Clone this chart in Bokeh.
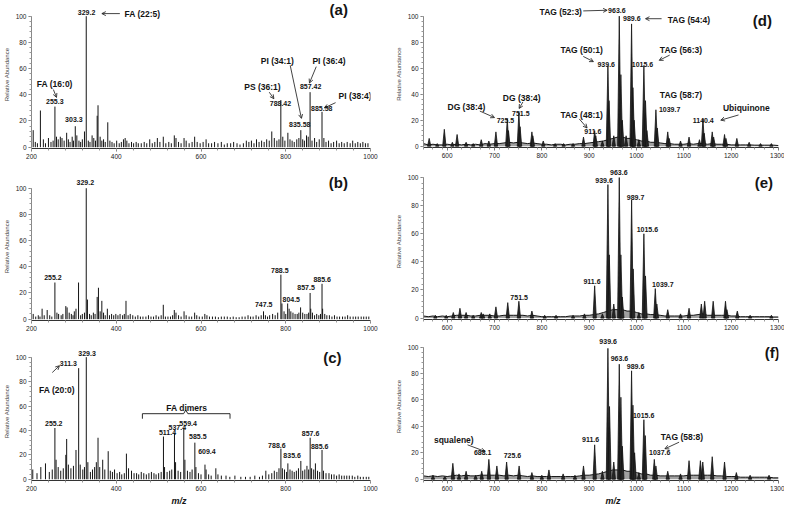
from bokeh.plotting import figure
from bokeh.layouts import row, column
from bokeh.models import Range1d, FixedTicker, Label, Arrow, OpenHead, Title
from bokeh.embed import file_html
from bokeh.resources import INLINE

# ---------------- data (m/z, relative abundance) ----------------
a_peaks = [(204, 13), (209, 4), (214, 3), (221, 28), (228, 6), (233, 3), (240, 7), (246, 4), (251, 5),
           (255.3, 31), (259, 8), (263, 6), (268, 8), (272, 7), (277, 5), (283, 11), (287, 6), (291, 4),
           (296, 8), (299, 5), (303.3, 16), (307, 9), (312, 5), (316, 4), (320, 6), (325, 12), (329.2, 100),
           (334, 5), (338, 4), (343, 9), (347, 7), (351, 5), (355, 24), (357, 32), (362, 8), (366, 5),
           (370, 6), (374, 4), (380, 19), (385, 5), (390, 4), (395, 3), (401, 5), (407, 3), (412, 4),
           (417, 6), (421, 7), (425, 5), (430, 3), (436, 4), (441, 3), (447, 4), (452, 3), (459, 3),
           (466, 4), (472, 3), (479, 6), (485, 3), (491, 4), (497, 7), (503, 4), (511, 8), (517, 3),
           (524, 4), (530, 3), (537, 9), (541, 7), (547, 4), (553, 3), (560, 7), (565, 5), (572, 3),
           (579, 4), (585, 8), (591, 4), (598, 3), (605, 4), (612, 6), (618, 3), (625, 3), (632, 4),
           (640, 3), (648, 4), (655, 2), (662, 3), (670, 3), (677, 4), (685, 3), (692, 2), (700, 3),
           (707, 5), (713, 4), (719, 5), (725, 3), (731, 6), (737, 4), (743, 5), (749, 4), (755, 6),
           (761, 5), (767, 12), (773, 7), (779, 5), (784, 6), (788.42, 36), (793, 8), (798, 5), (805, 11),
           (810, 6), (815, 5), (820, 4), (826, 6), (831, 7), (835.58, 13), (840, 6), (844, 5), (849, 9),
           (853, 8), (857.42, 42), (862, 5), (868, 7), (873, 4), (879, 6), (885.58, 27), (890, 7),
           (895, 4), (901, 5), (907, 3), (913, 4), (920, 5), (926, 3), (932, 4), (938, 3), (945, 4),
           (952, 3), (958, 5), (964, 3), (970, 4), (976, 3), (982, 4), (988, 3), (994, 3)]

b_peaks = [(204, 4), (210, 2), (216, 3), (220, 2), (225, 8), (230, 3), (237, 7), (243, 3), (248, 2),
           (255.2, 28), (260, 5), (264, 4), (270, 3), (274, 4), (281, 10), (284, 9), (289, 5), (294, 4),
           (298, 3), (301, 6), (305, 8), (311, 28), (316, 3), (320, 4), (325, 5), (329.2, 100), (332, 15),
           (337, 4), (341, 3), (346, 5), (350, 4), (355, 17), (358, 24), (362, 6), (366, 14), (370, 5),
           (374, 3), (379, 8), (384, 3), (389, 4), (394, 3), (399, 4), (404, 3), (409, 4), (415, 3),
           (419, 4), (423, 14), (428, 3), (433, 4), (439, 3), (445, 2), (451, 3), (457, 2), (463, 2),
           (470, 2), (476, 3), (482, 2), (488, 2), (494, 3), (500, 2), (506, 3), (511, 11), (516, 2),
           (522, 2), (528, 2), (533, 3), (537, 7), (541, 5), (547, 3), (553, 2), (560, 6), (565, 3),
           (572, 2), (578, 2), (585, 5), (590, 3), (596, 2), (603, 2), (609, 4), (614, 3), (620, 2),
           (627, 2), (634, 2), (641, 1.5), (648, 2), (655, 2), (662, 2), (669, 1.5), (676, 2), (683, 1.5),
           (690, 1.5), (697, 2), (704, 2), (711, 3), (717, 2), (723, 2), (730, 3), (736, 2), (742, 3),
           (747.5, 6), (752, 3), (757, 2), (762, 3), (769, 4), (775, 3), (781, 5), (788.5, 34), (791, 12),
           (796, 6), (800, 4), (804.5, 12), (808, 8), (812, 6), (817, 5), (822, 4), (827, 4), (831, 5),
           (835, 9), (840, 5), (845, 4), (850, 4), (854, 5), (857.5, 20), (859, 8), (863, 5), (868, 3),
           (873, 4), (878, 3), (882, 4), (885.6, 27), (887, 8), (892, 4), (897, 3), (903, 3), (909, 2),
           (915, 3), (921, 2), (927, 2), (934, 2), (940, 2), (946, 3), (952, 2), (959, 2), (965, 2),
           (971, 2), (978, 2), (984, 2), (990, 2), (996, 2)]

c_peaks = [(203, 8), (213, 5), (222, 10), (233, 13), (242, 6), (249, 8), (255.2, 42), (258, 16), (263, 10),
           (269, 7), (275, 9), (281, 20), (283, 33), (287, 12), (293, 9), (299, 11), (305, 24), (311.3, 91),
           (315, 12), (321, 8), (325, 10), (329.3, 100), (333, 14), (339, 6), (344, 8), (349, 10), (353, 14),
           (357, 34), (361, 10), (368, 16), (373, 8), (381, 23), (386, 7), (391, 6), (396, 8), (402, 5),
           (408, 6), (413, 4), (419, 5), (424, 21), (429, 9), (436, 7), (442, 5), (448, 5), (453, 4),
           (459, 6), (465, 5), (471, 4), (477, 5), (483, 6), (489, 5), (494, 4), (500, 5), (506, 6),
           (511.4, 35), (514, 10), (520, 6), (526, 7), (531, 8), (537.4, 38), (540, 14), (546, 7), (552, 6),
           (559.4, 42), (562, 16), (568, 7), (574, 6), (579, 8), (585.5, 30), (588, 10), (594, 5), (600, 4),
           (609.4, 12), (612, 8), (618, 4), (624, 3), (635, 9), (640, 4), (648, 3), (659, 3), (668, 2),
           (680, 3), (694, 2), (705, 2), (716, 2), (727, 3), (738, 2), (745, 3), (753, 7), (760, 4),
           (767, 5), (773, 7), (779, 6), (784, 9), (788.6, 25), (792, 9), (797, 8), (802, 6), (805, 13),
           (810, 8), (815, 7), (820, 6), (825, 7), (830, 9), (835.6, 15), (840, 7), (845, 8), (850, 11),
           (854, 8), (857.6, 34), (861, 9), (866, 8), (870, 13), (875, 7), (880, 6), (885.6, 24), (889, 7),
           (895, 5), (902, 5), (908, 4), (914, 4), (920, 3), (926, 4), (932, 3), (938, 3), (944, 3),
           (950, 3), (957, 3), (963, 2), (970, 3), (976, 2), (983, 2), (990, 2), (996, 2)]

d_peaks = [(562, 6), (579, 2), (594, 13), (611, 3), (621, 9), (640, 3), (655, 2), (672, 5), (688, 4),
           (703, 11), (727, 21), (729.5, 12), (751.5, 26), (754, 15), (779, 11), (781, 8), (803, 4),
           (828, 2), (846, 2), (866, 2), (888, 7), (911.6, 12), (914, 8), (928, 4), (939.6, 62), (942, 35),
           (952, 8), (963.6, 100), (967, 55), (970, 20), (978, 8), (989.6, 94), (992.5, 45), (995, 20),
           (1005, 5), (1015.6, 62), (1019, 35), (1022, 12), (1041, 28), (1044, 14), (1066, 11), (1069, 6),
           (1093, 4), (1111, 7), (1133, 5), (1140.4, 21), (1143, 10), (1160, 11), (1163, 7), (1186, 9),
           (1189, 6), (1212, 6), (1238, 3), (1262, 2), (1285, 2)]
d_base = [(550, 2), (560, 1), (570, 1.5), (580, 1), (590, 1), (600, 1.5), (610, 1), (620, 1.5), (630, 1),
          (640, 1.5), (650, 1), (660, 1.5), (670, 1), (680, 2), (690, 1.5), (700, 2), (710, 2), (720, 2.5),
          (730, 3), (740, 2.5), (750, 3), (760, 2.5), (770, 2), (780, 2.5), (790, 2), (800, 1.5), (810, 1.5),
          (820, 1), (830, 1.5), (840, 1.5), (850, 1), (860, 1.5), (870, 1.5), (880, 2), (890, 2), (900, 2.5),
          (910, 3), (920, 3.5), (930, 4), (940, 5), (950, 6), (960, 7), (970, 7), (980, 6), (990, 6),
          (1000, 5), (1010, 4), (1020, 4), (1030, 3), (1040, 3), (1050, 2.5), (1060, 2), (1070, 2),
          (1080, 1.5), (1090, 1.5), (1100, 1.5), (1110, 2), (1120, 1.5), (1130, 2), (1140, 2), (1150, 1.5),
          (1160, 2), (1170, 1.5), (1180, 1.5), (1190, 1.5), (1200, 1), (1210, 1), (1220, 1), (1230, 1),
          (1240, 1), (1250, 0.8), (1260, 0.8), (1270, 0.8), (1280, 0.8), (1290, 0.8), (1300, 0.5)]

e_peaks = [(575, 2), (598, 2), (613, 4), (627, 7), (640, 4), (655, 2), (672, 4), (676, 3), (690, 3),
           (703, 8), (728, 11), (751.5, 12), (779, 5), (806, 2), (830, 2), (866, 2), (890, 3), (911.6, 23),
           (928, 3), (939.6, 95), (942.5, 45), (952, 10), (963.6, 100), (967, 45), (970, 15), (989.7, 84),
           (993, 35), (1005, 4), (1015.6, 60), (1019, 30), (1039.7, 21), (1043, 10), (1066, 6), (1093, 3),
           (1111, 7), (1137, 10), (1144, 12), (1162, 12), (1188, 12), (1191, 6), (1213, 5), (1240, 2),
           (1285, 2)]
e_base = [(550, 1.5), (560, 1), (570, 1.5), (580, 1), (590, 1.5), (600, 1), (610, 1.5), (620, 2), (630, 2),
          (640, 2), (650, 1.5), (660, 1.5), (670, 2), (680, 2), (690, 2), (700, 1.5), (710, 1.5), (720, 2),
          (730, 2), (740, 2), (750, 2), (760, 2), (770, 1.5), (780, 2), (790, 1.5), (800, 1), (810, 1),
          (820, 1), (830, 1), (840, 1), (850, 1), (860, 1.5), (870, 1.5), (880, 1.5), (890, 2), (900, 2),
          (910, 2.5), (920, 3), (930, 4), (940, 5), (950, 6), (960, 6), (970, 6), (980, 5), (990, 5),
          (1000, 4), (1010, 3), (1020, 3), (1030, 2.5), (1040, 2.5), (1050, 2), (1060, 1.5), (1070, 1.5),
          (1080, 1.5), (1090, 1.5), (1100, 1.5), (1110, 2), (1120, 2), (1130, 2.5), (1140, 3), (1150, 2),
          (1160, 2), (1170, 2), (1180, 2), (1190, 2), (1200, 1.5), (1210, 1.5), (1220, 1), (1230, 1),
          (1240, 1), (1250, 1), (1260, 1), (1270, 1), (1280, 1), (1290, 0.8), (1300, 0.8)]

f_peaks = [(570, 3), (595, 2), (612, 12), (625, 4), (640, 6), (660, 3), (673, 6), (688.1, 15), (705, 10),
           (725.6, 13), (752, 10), (779, 5), (800, 3), (815, 7), (845, 4), (870, 3), (888, 10), (911.6, 26),
           (928, 6), (939.6, 99), (943, 55), (952, 13), (963.6, 87), (967, 62), (970, 25), (989.6, 82),
           (992.5, 56), (996, 20), (1005, 5), (1015.6, 45), (1018.5, 33), (1037.6, 15), (1041, 10), (1066, 6),
           (1093, 4), (1111, 14), (1135, 14), (1140, 13), (1160, 17), (1186, 13), (1211, 5), (1240, 3),
           (1280, 3)]
f_base = [(550, 2.5), (560, 2), (570, 2.5), (580, 2), (590, 2.5), (600, 2), (610, 2.5), (620, 3), (630, 2.5),
          (640, 3), (650, 2.5), (660, 2.5), (670, 3), (680, 3), (690, 3), (700, 3), (710, 3), (720, 2.5),
          (730, 3), (740, 2.5), (750, 3), (760, 2.5), (770, 2), (780, 2.5), (790, 2), (800, 2), (810, 2),
          (820, 2), (830, 2), (840, 2), (850, 2), (860, 2), (870, 2), (880, 2.5), (890, 3), (900, 3),
          (910, 3.5), (920, 4), (930, 5), (940, 6), (950, 7), (960, 7), (970, 7), (980, 6), (990, 6),
          (1000, 5), (1010, 4), (1020, 4), (1030, 3), (1040, 3), (1050, 2.5), (1060, 2.5), (1070, 2.5),
          (1080, 2.5), (1090, 2.5), (1100, 2.5), (1110, 3), (1120, 3), (1130, 3), (1140, 3), (1150, 3),
          (1160, 3), (1170, 2.5), (1180, 2.5), (1190, 2), (1200, 2), (1210, 2), (1220, 1.5), (1230, 1.5),
          (1240, 1.5), (1250, 1.5), (1260, 1.5), (1270, 1.5), (1280, 1.5), (1290, 1), (1300, 1)]

# ---------------- annotations (text, m/z, abundance) ----------------
a_nums = [("329.2", 330, 103), ("255.3", 255, 35), ("303.3", 300, 21), ("788.42", 787.5, 33),
          ("835.58", 833, 17), ("857.42", 858.7, 46), ("885.58", 885, 29.6)]
a_names = [("FA (22:5)", 462, 101.5), ("FA (16:0)", 255, 48), ("PS (36:1)", 745, 46), ("PI (34:1)", 780, 66),
           ("PI (36:4)", 902, 66), ("PI (38:4)", 963.5, 39)]
a_arrows = [(408.5, 102, 366, 102), (251.6, 44, 259, 38), (761, 42, 772, 37), (810.5, 62.5, 837, 22),
            (872, 61.5, 856, 49), (917.6, 34, 891, 30)]

b_nums = [("329.2", 327, 104), ("255.2", 250.6, 32), ("788.5", 786, 37), ("747.5", 748, 11),
          ("804.5", 813, 15), ("857.5", 848, 24), ("885.6", 886, 30)]

c_nums = [("329.3", 331, 103), ("311.3", 287, 94.5), ("255.2", 252.5, 46), ("511.4", 521, 38.5),
          ("537.4", 544, 42), ("559.4", 569.6, 46), ("585.5", 592.5, 35), ("609.4", 614, 22.7),
          ("788.6", 779, 28), ("835.6", 815, 19.6), ("857.6", 858.6, 37.8), ("885.6", 880, 27)]
c_names = [("FA (20:0)", 260, 73), ("FA dimers", 566.6, 58)]
c_arrows = [(249, 87.4, 266, 93)]
c_bracket = (461.7, 668.5, 564, 49.6, 53.7, 56.7)  # left, right, middle, end y, bar y, tip y

d_nums = [("963.6", 958.5, 104), ("989.6", 990, 98), ("939.6", 936, 63), ("1015.6", 1012.6, 63),
          ("725.5", 723, 20), ("751.5", 755.6, 25), ("911.6", 907.8, 11), ("1039.7", 1070, 28),
          ("1140.4", 1141, 20)]
d_names = [("TAG (52:3)", 840, 103), ("TAG (54:4)", 1110.7, 97), ("TAG (50:1)", 884, 74),
           ("TAG (56:3)", 1094, 74), ("DG (38:4)", 640.6, 30), ("DG (38:4)", 757.6, 37),
           ("TAG (48:1)", 884, 24), ("TAG (58:7)", 1094, 39), ("Ubiquinone", 1232, 29)]
d_arrows = [(887.5, 104, 938, 104.5), (1053, 98, 1019, 98), (887.5, 69, 909, 65), (1070, 70, 1048, 66),
            (669, 27, 700, 22), (760, 34, 752, 29), (879, 21, 895.6, 14), (1215.5, 24, 1178, 20)]

e_nums = [("939.6", 931.5, 97.6), ("963.6", 962.7, 103.5), ("989.7", 998, 86), ("1015.6", 1023, 63),
          ("911.6", 906, 26), ("1039.7", 1055.6, 24), ("751.5", 752, 15)]

f_nums = [("939.6", 940, 104), ("963.6", 964, 91), ("989.6", 998, 85), ("1015.6", 1015, 48),
          ("911.6", 903, 30), ("688.1", 675, 20), ("725.6", 738, 18), ("1037.6", 1049, 20)]
f_names = [("squalene)", 614, 30), ("TAG (58:8)", 1096, 32)]
f_arrows = [(643, 26, 680, 21), (1090, 28, 1060, 23)]

letters = {"a": (925, 105), "b": (924, 104.5), "c": (910, 99.5), "d": (1266, 97), "e": (1269, 96.5), "f": (1287, 96)}
left_xticks = [200, 400, 600, 800, 1000]
right_xticks = [600, 700, 800, 900, 1000, 1100, 1200, 1300]
y_ticks = [0, 20, 40, 60, 80, 100]
x_title = "m/z"

# ---------------- styling ----------------
FONT = "Liberation Sans"
INK = "#141414"
HW = 3.5  # half width of a profile peak, m/z units


def base_fig(width, height, xr, y_end, top, bottom, right, xticks, minor_step):
    p = figure(width=width, height=height, x_range=Range1d(*xr), y_range=Range1d(-1, y_end),
               output_backend="svg", toolbar_location=None,
               min_border_left=0, min_border_right=right, min_border_top=top, min_border_bottom=bottom)
    p.outline_line_color = None
    p.grid.visible = False
    p.xaxis.ticker = FixedTicker(ticks=xticks,
                                 minor_ticks=list(range(int(xr[0]), int(xr[1]) + 1, minor_step)))
    p.yaxis.ticker = FixedTicker(ticks=y_ticks, minor_ticks=list(range(0, 101, 4)))
    p.yaxis.bounds = (0, 100)
    p.xaxis.bounds = xr
    p.yaxis.axis_label = "Relative Abundance"
    p.yaxis.axis_label_text_font = FONT
    p.yaxis.axis_label_text_font_size = "6px"
    p.yaxis.axis_label_text_font_style = "normal"
    p.yaxis.axis_label_standoff = 3
    for ax in (p.xaxis[0], p.yaxis[0]):
        ax.major_label_text_font = FONT
        ax.major_label_text_font_size = "6.5px"
        ax.major_label_text_color = "#222222"
        ax.major_tick_out = 3
        ax.major_tick_in = 0
        ax.minor_tick_out = 2
        ax.minor_tick_in = 0
        ax.major_label_standoff = 2
        ax.major_tick_line_color = "#777777"
        ax.minor_tick_line_color = "#999999"
    p.yaxis.axis_line_color = "#888888"
    p.xaxis.axis_line_color = "#333333"
    return p


def add_xtitle(p, offset):
    p.add_layout(Title(text=x_title, align="left", offset=offset, standoff=0,
                       text_font=FONT, text_font_size="9px", text_font_style="bold italic",
                       text_color=INK), "below")


def add_texts(p, items, size, style="bold"):
    for t, x, y in items:
        p.add_layout(Label(x=x, y=y, text=t, text_align="center", text_baseline="middle",
                           text_font=FONT, text_font_size=size, text_font_style=style, text_color=INK))


def add_arrows(p, items):
    for x0, y0, x1, y1 in items:
        p.add_layout(Arrow(end=OpenHead(size=4, line_width=0.8, line_color=INK),
                           x_start=x0, y_start=y0, x_end=x1, y_end=y1,
                           line_width=0.8, line_color=INK))


def stick_panel(peaks, height, y_end, top, bottom, letter):
    p = base_fig(392, height, (200, 1000), y_end, top, bottom, 22, left_xticks, 40)
    mz = [m for m, _ in peaks]
    ab = [a for _, a in peaks]
    p.segment(x0=mz, y0=[0] * len(mz), x1=mz, y1=ab, line_color=INK, line_width=1.0)
    lx, ly = letters[letter]
    add_texts(p, [("(" + letter + ")", lx, ly)], "15px")
    return p


def profile_panel(peaks, base, height, y_end, top, bottom, letter):
    p = base_fig(392, height, (550, 1300), y_end, top, bottom, 6, right_xticks, 20)
    bx = [m for m, _ in base]
    by = [a for _, a in base]
    p.varea(x=bx, y1=[0] * len(bx), y2=by, fill_color=INK, fill_alpha=0.4)
    p.line(bx, by, line_color=INK, line_width=1)
    xs = [[m - HW, m, m + HW] for m, _ in peaks]
    ys = [[0, a, 0] for _, a in peaks]
    p.patches(xs, ys, fill_color="#262626", line_color=INK, line_width=0.8)
    lx, ly = letters[letter]
    add_texts(p, [("(" + letter + ")", lx, ly)], "15px")
    return p


pa = stick_panel(a_peaks, 162, 112, 0, 14, "a")
add_texts(pa, a_nums, "7px")
add_texts(pa, a_names, "8.5px")
add_arrows(pa, a_arrows)

pb = stick_panel(b_peaks, 175, 112, 10, 17, "b")
add_texts(pb, b_nums, "7px")

pc = stick_panel(c_peaks, 168, 112, 5, 20, "c")
add_xtitle(pc, 140)
add_texts(pc, c_nums, "7px")
add_texts(pc, c_names, "8.5px")
add_arrows(pc, c_arrows)
L, R, M, ye, yb, yt = c_bracket
pc.line([L, L, M - 5, M, M + 5, R, R], [ye, yb, yb, yt, yb, yb, ye], line_color=INK, line_width=0.9)

pd = profile_panel(d_peaks, d_base, 162, 112, 0, 15, "d")
add_texts(pd, d_nums, "7px")
add_texts(pd, d_names, "8.5px")
add_arrows(pd, d_arrows)

pe = profile_panel(e_peaks, e_base, 170, 110, 1, 12, "e")
add_texts(pe, e_nums, "7px")

pf = profile_panel(f_peaks, f_base, 173, 111, 0, 20, "f")
add_xtitle(pf, 182)
add_texts(pf, f_nums, "7px")
add_texts(pf, f_names, "8.5px")
add_arrows(pf, f_arrows)

layout = row(column(pa, pb, pc), column(pd, pe, pf))
open("out.html", "w").write(file_html(layout, INLINE))
